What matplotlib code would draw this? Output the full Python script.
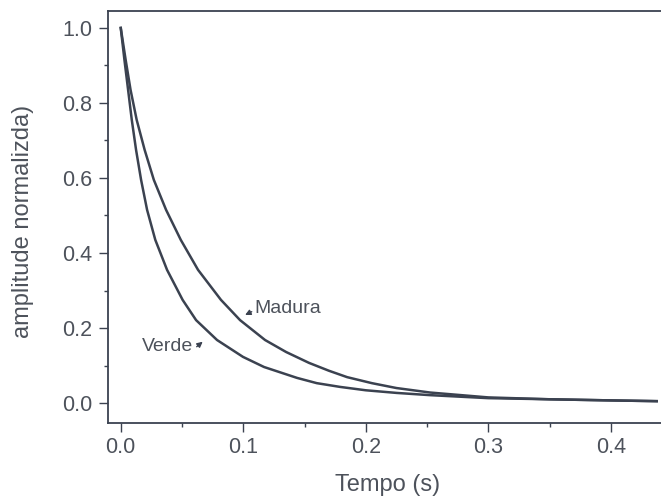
import matplotlib
matplotlib.use("Agg")
import matplotlib.pyplot as plt
from matplotlib.ticker import MultipleLocator

plt.rcParams['font.family'] = ['Liberation Sans', 'DejaVu Sans']

# valores (tempo em s, amplitude normalizada)
verde_t = [0.0, 0.0030, 0.0060, 0.0090, 0.0125, 0.0166, 0.0215, 0.0282, 0.0378,
           0.0505, 0.0615, 0.0786, 0.0998, 0.1170, 0.1439, 0.160, 0.179, 0.200,
           0.225, 0.2525, 0.300, 0.350, 0.400, 0.4375]
verde_a = [1.0, 0.915, 0.835, 0.755, 0.675, 0.595, 0.515, 0.435, 0.355,
           0.275, 0.221, 0.168, 0.123, 0.096, 0.067, 0.053, 0.043, 0.034,
           0.027, 0.021, 0.013, 0.010, 0.007, 0.005]

madura_t = [0.0, 0.0040, 0.0080, 0.0130, 0.0195, 0.0270, 0.0370, 0.0490, 0.0631,
            0.0818, 0.0974, 0.1178, 0.135, 0.1537, 0.170, 0.1848, 0.205, 0.225,
            0.2525, 0.300, 0.350, 0.400, 0.4375]
madura_a = [1.0, 0.915, 0.835, 0.755, 0.675, 0.595, 0.515, 0.435, 0.355,
            0.275, 0.221, 0.168, 0.136, 0.107, 0.086, 0.069, 0.053, 0.040,
            0.028, 0.015, 0.010, 0.007, 0.005]

cor = '#3b4250'
cor_txt = '#4d525b'

fig = plt.figure(figsize=(6.61, 5.03), dpi=100)
ax = fig.add_axes([0.1634, 0.1596, 0.8366, 0.8184])

ax.plot(verde_t, verde_a, color=cor, lw=1.8)
ax.plot(madura_t, madura_a, color=cor, lw=1.8)

ax.set_xlim(-0.0104, 0.441)
ax.set_ylim(-0.0525, 1.045)

ax.xaxis.set_major_locator(MultipleLocator(0.1))
ax.xaxis.set_minor_locator(MultipleLocator(0.05))
ax.yaxis.set_major_locator(MultipleLocator(0.2))
ax.yaxis.set_minor_locator(MultipleLocator(0.1))
ax.xaxis.set_major_formatter(lambda v, p: f'{v:.1f}')
ax.yaxis.set_major_formatter(lambda v, p: f'{v:.1f}')

ax.spines['right'].set_visible(False)
for s in ['left', 'bottom', 'top']:
    ax.spines[s].set_color(cor)
    ax.spines[s].set_linewidth(1.3)

ax.tick_params(axis='both', which='major', length=6.5, width=1.0, color=cor,
               labelsize=15.5, labelcolor=cor_txt, direction='out')
ax.tick_params(axis='both', which='minor', length=3, width=1.0, color=cor, direction='out')
ax.tick_params(axis='y', which='major', pad=5)
ax.tick_params(axis='x', which='major', pad=4)

ax.set_xlabel('Tempo (s)', fontsize=17, color=cor_txt)
ax.set_ylabel('amplitude normalizda)', fontsize=17, color=cor_txt)
ax.xaxis.set_label_coords(0.506, -0.125)
ax.yaxis.set_label_coords(-0.133, 0.49)

# rótulos com setinhas
seta = dict(arrowstyle='-|>', color=cor, lw=1.0, mutation_scale=8, shrinkA=0, shrinkB=0)
ax.text(0.1088, 0.2533, 'Madura', fontsize=14, color=cor_txt, va='center', ha='left')
ax.annotate('', xy=(0.1015, 0.2347), xytext=(0.1069, 0.2435), arrowprops=seta)
ax.text(0.0595, 0.152, 'Verde', fontsize=14, color=cor_txt, va='center', ha='right')
ax.annotate('', xy=(0.0669, 0.1635), xytext=(0.0620, 0.1501), arrowprops=seta)

fig.savefig('out.png', dpi=100)
